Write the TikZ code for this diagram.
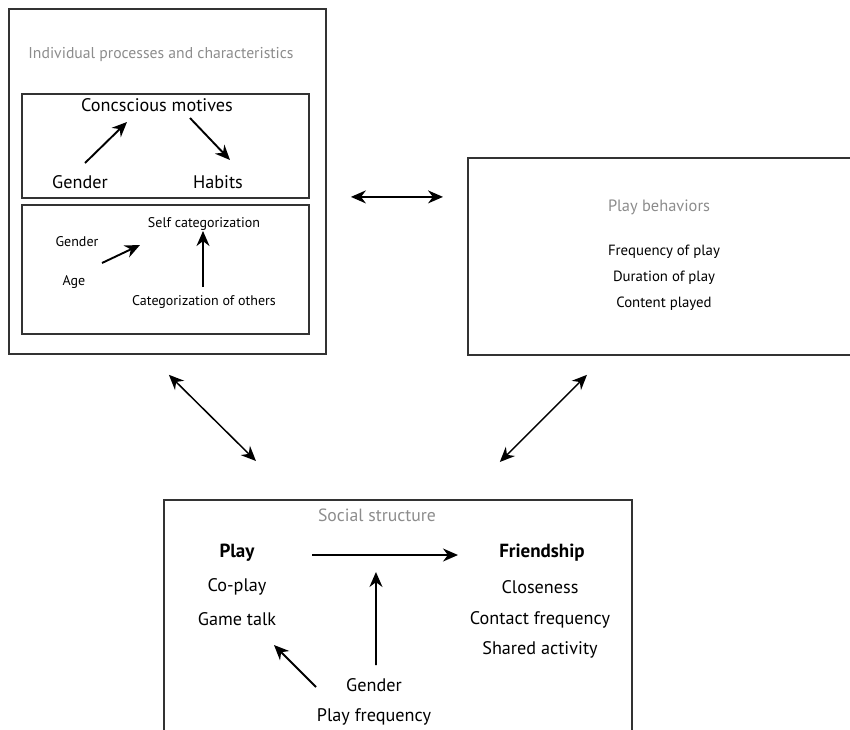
\documentclass[tikz,border=0pt]{standalone}
\usepackage{fontspec}
\setmainfont{PT Sans}
\usetikzlibrary{arrows.meta}
\definecolor{titlegray}{HTML}{8C8C8C}
\definecolor{framegray}{HTML}{333333}

\begin{document}
\begin{tikzpicture}[
  x=1pt, y=-1pt,
  panel/.style={rectangle, draw=framegray, line width=1.8pt, anchor=north west, inner sep=0pt},
  txt/.style={font=\fontsize{14.8}{17}\selectfont, inner sep=1pt},
  bigtxt/.style={font=\fontsize{18.2}{21}\selectfont, inner sep=1pt},
  smalltxt/.style={font=\fontsize{14}{16}\selectfont, inner sep=1pt},
  heading/.style={text=titlegray, inner sep=1pt},
  arr/.style={-{Stealth[length=15pt,width=13pt]}, line width=1.9pt},
  dblarr/.style={{Stealth[length=15pt,width=13pt]}-{Stealth[length=15pt,width=13pt]}, line width=1.5pt},
  node distance=26pt
]
\useasboundingbox (0,0) rectangle (850,729);
\clip (0,0) rectangle (850,729);

% Boxes
\node[panel, minimum width=317pt, minimum height=345pt] (indiv) at (8,8) {};
\node[panel, minimum width=287pt, minimum height=104pt] (motbox) at (21,93) {};
\node[panel, minimum width=287pt, minimum height=129pt] (catbox) at (21,204) {};
\node[panel, minimum width=400pt, minimum height=197pt] (behav) at (467,157) {};
\node[panel, minimum width=468pt, minimum height=280pt] (social) at (163,499) {};

% Individual processes
\node[heading, font=\fontsize{15.7}{18}\selectfont] (indivttl) at (161,55) {Individual processes and characteristics};
\node[bigtxt] (motives) at (157,105) {Concscious motives};
\node[bigtxt] (gen1) at (80,182) {Gender};
\node[bigtxt] (habits) at (218,182) {Habits};
\node[smalltxt] (selfcat) at (204,224) {Self categorization};
\node[smalltxt] (gen2) at (77,242) {Gender};
\node[smalltxt] (age) at (74,282) {Age};
\node[smalltxt] (catoth) at (204,302) {Categorization of others};

% Play behaviors
\node[heading, font=\fontsize{16.4}{19}\selectfont] (behavttl) at (659,207) {Play behaviors};
\node[txt] (freq) at (664,252) {Frequency of play};
\node[txt, below of=freq] (dur) {Duration of play};
\node[txt, below of=dur] (cont) {Content played};

% Social structure
\node[heading, font=\fontsize{17.7}{20}\selectfont] (socialttl) at (377,515) {Social structure};
\node[bigtxt, font=\fontsize{19}{22}\bfseries] (play) at (237,553) {Play};
\node[bigtxt, below of=play, node distance=34pt] (coplay) {Co-play};
\node[bigtxt, below of=coplay, node distance=32pt] (gtalk) {Game talk};
\node[bigtxt, font=\fontsize{19}{22}\bfseries] (friend) at (542,553) {Friendship};
\node[bigtxt] (close) at (540,587) {Closeness};
\node[bigtxt, below of=close, node distance=33pt] (contact) {Contact frequency};
\node[bigtxt, below of=contact, node distance=30pt] (shared) {Shared activity};
\node[bigtxt] (gen3) at (374,685) {Gender};
\node[bigtxt, below of=gen3, node distance=32pt] (pfreq) {Play frequency};

% Arrows
\draw[arr] ([shift={(5,-19)}]gen1.center) -- ([shift={(-30,17)}]motives.center);
\draw[arr] ([shift={(33,13)}]motives.center) -- ([shift={(12,-22)}]habits.center);
\draw[arr] ([shift={(25,21)}]gen2.center) -- ([shift={(-64,21)}]selfcat.center);
\draw[arr] ([shift={(-1,-15)}]catoth.center) -- ([shift={(-1,7)}]selfcat.center);
\draw[arr] ([shift={(75,2)}]play.center) -- coordinate[pos=0.438] (amid) ([shift={(-84,2)}]friend.center);
\draw[arr] ([shift={(2,-20)}]gen3.center) -- ([shift={(0,17)}]amid);
\draw[arr] ([shift={(-58,2)}]gen3.center) -- ([shift={(37,26)}]gtalk.center);

% Links between boxes
\draw[dblarr] ([shift={(183.5,15.5)}]indiv.center) -- ([shift={(-24,-59.5)}]behav.west);
\draw[dblarr] ([shift={(1.5,20)}]indiv.south) -- ([shift={(93,-38)}]social.north west);
\draw[dblarr] ([shift={(120,19)}]behav.south west) -- ([shift={(-133,-37)}]social.north east);
\end{tikzpicture}
\end{document}
